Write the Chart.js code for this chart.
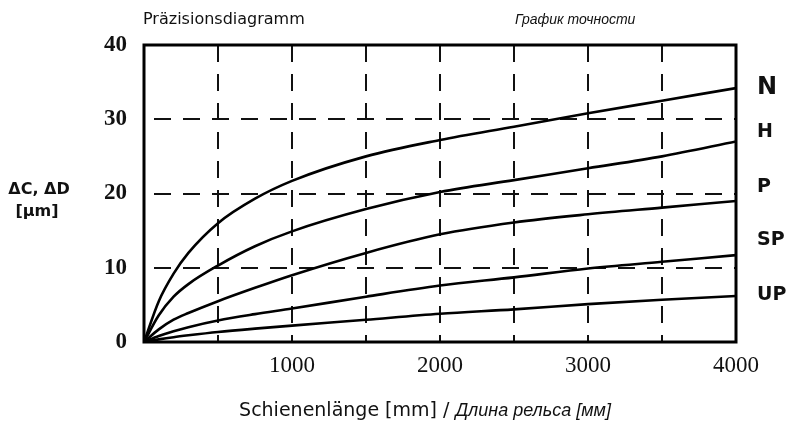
<!DOCTYPE html>
<html>
<head>
<meta charset="utf-8">
<script src="https://cdn.jsdelivr.net/npm/chart.js@4.4.1/dist/chart.umd.min.js"></script>
<style>
  body { margin: 0; background: #fff; }
  #wrap { width: 801px; height: 421px; }
</style>
</head>
<body>
<div id="wrap"><canvas id="chart" width="801" height="421"></canvas></div>
<script>
var lengths = [0, 100, 200, 300, 500, 750, 1000, 1500, 2000, 2500, 3000, 3500, 4000];

// deviation in micrometres per accuracy class
var valuesN  = [0, 5.5, 9.2, 12.0, 16.0, 19.3, 21.7, 25.0, 27.2, 29.0, 30.8, 32.5, 34.2];
var valuesH  = [0, 3.6, 6.1, 7.8, 10.3, 12.9, 14.9, 17.9, 20.2, 21.8, 23.4, 25.0, 27.0];
var valuesP  = [0, 1.7, 3.0, 3.9, 5.5, 7.3, 9.0, 12.0, 14.5, 16.1, 17.2, 18.1, 19.0];
var valuesSP = [0, 0.8, 1.45, 2.0, 2.9, 3.75, 4.5, 6.1, 7.6, 8.7, 9.9, 10.8, 11.7];
var valuesUP = [0, 0.35, 0.65, 0.9, 1.35, 1.8, 2.2, 3.0, 3.8, 4.4, 5.1, 5.7, 6.2];

var classNames = ["N", "H", "P", "SP", "UP"];
var xTickLabels = [1000, 2000, 3000, 4000];
var yTickLabels = [0, 10, 20, 30, 40];

var toPoints = function(vals) {
    return lengths.map(function(x, i) { return {x: x, y: vals[i]}; });
};

var series = [valuesN, valuesH, valuesP, valuesSP, valuesUP];
var datasets = series.map(function(vals, i) {
    return {
        label: classNames[i],
        data: toPoints(vals),
        borderColor: "#000",
        borderWidth: 2.6,
        pointRadius: 0,
        cubicInterpolationMode: "monotone",
        fill: false
    };
});

// where the class letters sit on the right (value units)
var classLabelY = [34.2, 28.3, 20.9, 13.7, 6.3];
var classLabelSize = [24, 19, 19, 19, 19];

var textPlugin = {
    id: "texts",
    afterDraw: function(chart) {
        var ctx = chart.ctx;
        var area = chart.chartArea;
        var yScale = chart.scales.y;

        ctx.save();
        // frame
        ctx.strokeStyle = "#000";
        ctx.lineWidth = 3;
        ctx.strokeRect(area.left, area.top, area.right - area.left, area.bottom - area.top);

        ctx.fillStyle = "#111";
        ctx.textBaseline = "middle";

        // titles
        ctx.textAlign = "left";
        ctx.font = "500 16px 'DejaVu Sans'";
        ctx.fillText("Präzisionsdiagramm", 143, 20);
        ctx.font = "italic 14px 'Liberation Sans Narrow', 'Liberation Sans'";
        ctx.fillText("График точности", 515, 20);

        // left unit label
        ctx.textAlign = "center";
        ctx.font = "bold 16px 'DejaVu Sans'";
        ctx.fillText("ΔC, ΔD", 39, 190);
        ctx.fillText("[μm]", 37, 212);

        // class letters
        ctx.textAlign = "left";
        classNames.forEach(function(name, i) {
            ctx.font = "bold " + classLabelSize[i] + "px 'DejaVu Sans'";
            ctx.fillText(name, 757, yScale.getPixelForValue(classLabelY[i]));
        });

        // x axis title, two parts
        var partA = "Schienenlänge [mm] / ";
        var partB = "Длина рельса [мм]";
        ctx.font = "19px 'DejaVu Sans'";
        var wA = ctx.measureText(partA).width;
        ctx.font = "italic 18px 'Liberation Sans Narrow', 'Liberation Sans'";
        var wB = ctx.measureText(partB).width;
        var startX = 425 - (wA + wB) / 2;
        ctx.font = "19px 'DejaVu Sans'";
        ctx.fillText(partA, startX, 411);
        ctx.font = "italic 18px 'Liberation Sans Narrow', 'Liberation Sans'";
        ctx.fillText(partB, startX + wA, 411);
        ctx.restore();
    }
};

var chart = new Chart("chart", {
    type: "line",
    data: { datasets: datasets },
    options: {
        responsive: false,
        animation: false,
        layout: { padding: { left: 0, top: 45, right: 65, bottom: 0 } },
        plugins: {
            legend: { display: false },
            tooltip: { enabled: false }
        },
        scales: {
            x: {
                type: "linear",
                min: 0,
                max: 4000,
                afterFit: function(scale) { scale.height = 79; },
                ticks: {
                    stepSize: 500,
                    padding: 10,
                    maxRotation: 0,
                    color: "#111",
                    font: { family: "'Liberation Serif'", size: 23 },
                    callback: function(v) { return xTickLabels.indexOf(v) >= 0 ? String(v) : ""; }
                },
                grid: {
                    drawTicks: false,
                    lineWidth: 2,
                    color: function(c) {
                        var v = c.tick ? c.tick.value : 0;
                        return (v === 0 || v === 4000) ? "rgba(0,0,0,0)" : "#111";
                    }
                },
                border: { display: false, dash: [17, 12], dashOffset: 0 }
            },
            y: {
                min: 0,
                max: 40,
                afterFit: function(scale) { scale.width = 144; },
                ticks: {
                    stepSize: 10,
                    padding: 17,
                    color: "#111",
                    font: { family: "'Liberation Serif'", size: 23, weight: "bold" },
                    callback: function(v) { return yTickLabels.indexOf(v) >= 0 ? String(v) : ""; }
                },
                grid: {
                    drawTicks: false,
                    lineWidth: 2,
                    color: function(c) {
                        var v = c.tick ? c.tick.value : 0;
                        return (v === 0 || v === 40) ? "rgba(0,0,0,0)" : "#111";
                    }
                },
                border: { display: false, dash: [17, 12], dashOffset: 19 }
            }
        }
    },
    plugins: [textPlugin]
});
</script>
</body>
</html>
